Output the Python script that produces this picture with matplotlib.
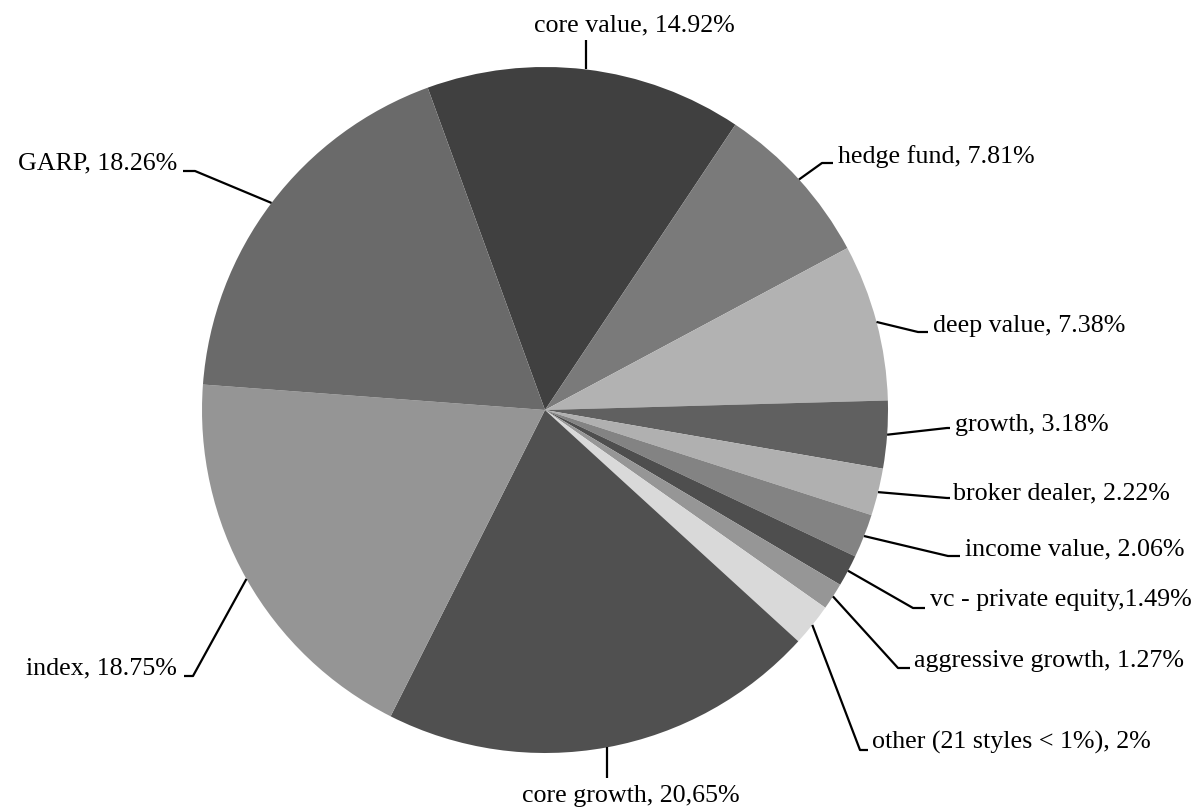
import numpy as np
import matplotlib
matplotlib.use("Agg")
import matplotlib.pyplot as plt

# Investment style breakdown (percent of assets)
styles = ["core value", "hedge fund", "deep value", "growth", "broker dealer",
          "income value", "vc - private equity", "aggressive growth",
          "other (21 styles < 1%)", "core growth", "index", "GARP"]
shares = [14.92, 7.81, 7.38, 3.18, 2.22, 2.06, 1.49, 1.27, 2.0, 20.65, 18.75, 18.26]
labels = ["core value, 14.92%", "hedge fund, 7.81%", "deep value, 7.38%",
          "growth, 3.18%", "broker dealer, 2.22%", "income value, 2.06%",
          "vc - private equity,1.49%", "aggressive growth, 1.27%",
          "other (21 styles < 1%), 2%", "core growth, 20,65%",
          "index, 18.75%", "GARP, 18.26%"]
greys = ["#404040", "#7a7a7a", "#b2b2b2", "#606060", "#b0b0b0", "#838383",
         "#4e4e4e", "#969696", "#d9d9d9", "#505050", "#959595", "#6a6a6a"]

W, H = 1202, 811
fig = plt.figure(figsize=(W / 100, H / 100), dpi=100)
ax = fig.add_axes([0, 0, 1, 1])

cx, cy, r = 545, H - 410, 343
wedges, _ = ax.pie(shares, colors=greys, startangle=110, counterclock=False,
                   center=(cx, cy), radius=r, wedgeprops=dict(linewidth=0))
ax.set_xlim(0, W)
ax.set_ylim(0, H)
ax.set_aspect("equal")
ax.axis("off")

def flip(p):
    return (p[0], H - p[1])

# label layout (screen coords, origin top-left): knee point, end of tail, text anchor, alignment
layout = [
    ("v", (None, 40), None, (634, 25), "center"),
    ("k", (822, 163), (833, 163), (838, 157), "left"),
    ("k", (918, 332), (928, 332), (933, 326), "left"),
    ("k", (947, 428), (950, 428), (955, 425), "left"),
    ("k", (947, 498), (950, 498), (953, 493), "left"),
    ("k", (948, 556), (960, 556), (965, 549), "left"),
    ("k", (913, 608), (925, 608), (930, 600), "left"),
    ("k", (898, 668), (910, 668), (914, 661), "left"),
    ("k", (860, 750), (868, 750), (872, 742), "left"),
    ("v", (None, 778), None, (631, 796), "center"),
    ("k", (193, 676), (184, 676), (177, 668), "right"),
    ("k", (195, 171), (183, 171), (177, 163), "right"),
]

for w, lab, (kind, knee, tail, tpos, ha) in zip(wedges, labels, layout):
    mid = np.deg2rad((w.theta1 + w.theta2) / 2)
    ex, ey = cx + r * np.cos(mid), cy + r * np.sin(mid)
    if kind == "v":
        kx, ky = ex, H - knee[1]
        xs, ys = [ex, kx], [ey, ky]
    else:
        kx, ky = flip(knee)
        tx, ty = flip(tail)
        xs, ys = [ex, kx, tx], [ey, ky, ty]
    ax.plot(xs, ys, color="black", lw=1.6, solid_capstyle="butt")
    px, py = flip(tpos)
    ax.text(px, py, lab, ha=ha, va="center", fontsize=18.7,
            family="Liberation Serif", color="black")

fig.savefig("out.png", dpi=100, facecolor="white")
